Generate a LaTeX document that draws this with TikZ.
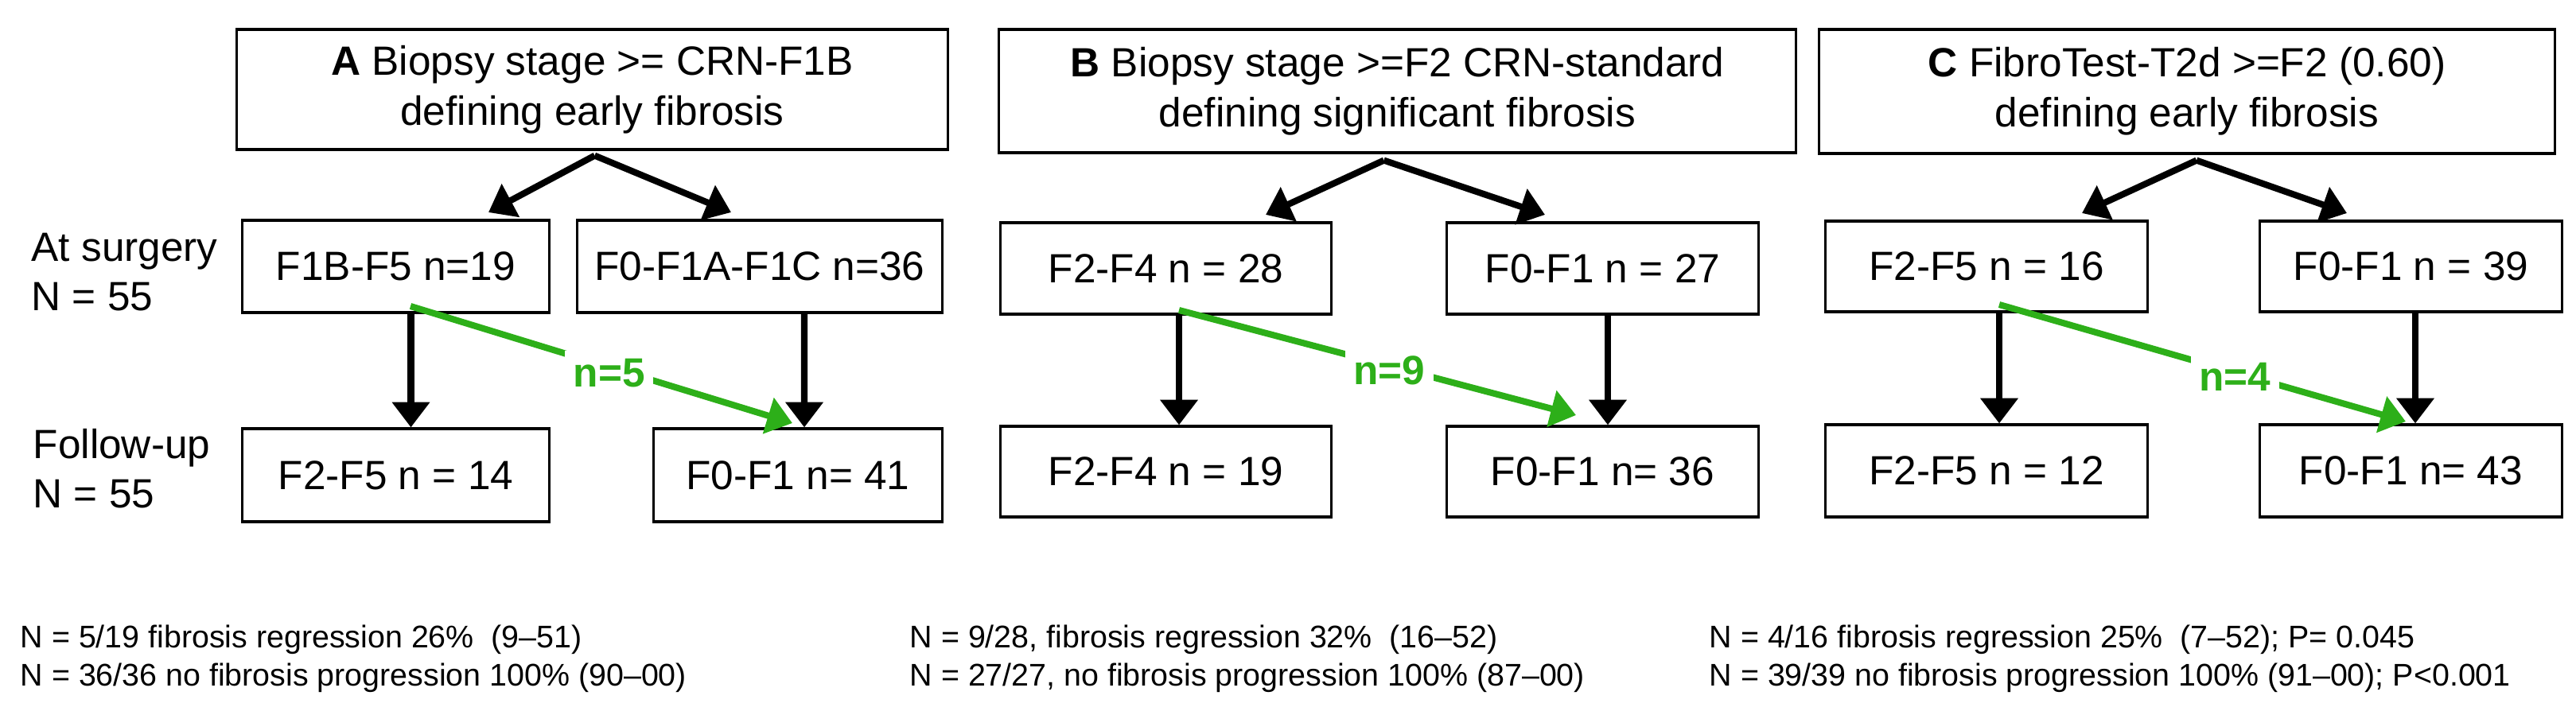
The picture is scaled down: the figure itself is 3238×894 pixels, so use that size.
\documentclass[tikz,border=0pt]{standalone}
\usepackage{fontspec}
\setmainfont{Liberation Sans}
\usetikzlibrary{arrows.meta}
\definecolor{grn}{RGB}{45,175,25}
\begin{document}
\begin{tikzpicture}[x=0.01cm,y=-0.01cm,
  box/.style={draw,line width=0.9pt,inner sep=0pt,font=\fontsize{14.6}{17.8}\selectfont,align=center},
  lbl/.style={anchor=west,align=left,inner sep=0pt,font=\fontsize{14.6}{17.6}\selectfont},
  foot/.style={anchor=west,align=left,inner sep=0pt,font=\fontsize{11.2}{13.7}\selectfont},
  arr/.style={line width=2.3pt,-{Triangle[length=9pt,width=13pt]}},
  garr/.style={arr,draw=grn},
  glab/.style={fill=white,text=grn,inner sep=3pt,font=\fontsize{14.6}{17}\selectfont\bfseries}]
\useasboundingbox (0,0) rectangle (3238,894);
% Panel A
\node[box,minimum width=8.93cm,minimum height=1.51cm] (tA) at (744.5,112.5) {\textbf{A} Biopsy stage >= CRN-F1B\\defining early fibrosis};
\node[box,minimum width=3.85cm,minimum height=1.16cm] (sA1) at (497.5,335) {F1B-F5 n=19};
\node[box,minimum width=4.58cm,minimum height=1.16cm] (sA2) at (955,335) {F0-F1A-F1C n=36};
\node[box,minimum width=3.85cm,minimum height=1.17cm] (fA1) at (497.5,597.5) {F2-F5 n = 14};
\node[box,minimum width=3.62cm,minimum height=1.17cm] (fA2) at (1003,597.5) {F0-F1 n= 41};
\coordinate (aL) at (614,267);
\coordinate (aR) at (919,267);
\draw[arr] ([xshift=0.03cm,yshift=-0.06cm]tA.south) -- (aL);
\draw[arr] ([xshift=0.03cm,yshift=-0.06cm]tA.south) -- (aR);
\draw[arr] ([xshift=0.19cm]sA1.south) -- ([xshift=0.19cm]fA1.north);
\draw[arr] ([xshift=0.56cm]sA2.south) -- ([xshift=0.08cm]fA2.north);
\coordinate (gA1) at (516,385);
\coordinate (gA2) at (996,532);
\draw[garr] (gA1) -- node[glab,pos=0.52,yshift=-0.08cm] {n=5} (gA2);
% Panel B
\node[box,minimum width=10.01cm,minimum height=1.55cm] (tB) at (1756.5,114.5) {\textbf{B} Biopsy stage >=F2 CRN-standard\\defining significant fibrosis};
\node[box,minimum width=4.15cm,minimum height=1.15cm] (sB1) at (1465.5,337.5) {F2-F4 n = 28};
\node[box,minimum width=3.91cm,minimum height=1.15cm] (sB2) at (2014.5,337.5) {F0-F1 n = 27};
\node[box,minimum width=4.15cm,minimum height=1.14cm] (fB1) at (1465.5,593) {F2-F4 n = 19};
\node[box,minimum width=3.91cm,minimum height=1.14cm] (fB2) at (2014.5,593) {F0-F1 n= 36};
\coordinate (bL) at (1591,270);
\coordinate (bR) at (1942,270);
\draw[arr] ([xshift=-0.17cm,yshift=-0.08cm]tB.south) -- (bL);
\draw[arr] ([xshift=-0.17cm,yshift=-0.08cm]tB.south) -- (bR);
\draw[arr] ([xshift=0.165cm]sB1.south) -- ([xshift=0.165cm]fB1.north);
\draw[arr] ([xshift=0.065cm]sB2.south) -- ([xshift=0.065cm]fB2.north);
\coordinate (gB1) at (1482,390);
\coordinate (gB2) at (1981,522);
\draw[garr] (gB1) -- node[glab,pos=0.53,yshift=-0.06cm] {n=9} (gB2);
% Panel C
\node[box,minimum width=9.24cm,minimum height=1.56cm] (tC) at (2749,115) {\textbf{C} FibroTest-T2d >=F2 (0.60)\\defining early fibrosis};
\node[box,minimum width=4.04cm,minimum height=1.14cm] (sC1) at (2497,335) {F2-F5 n = 16};
\node[box,minimum width=3.79cm,minimum height=1.14cm] (sC2) at (3030.5,335) {F0-F1 n = 39};
\node[box,minimum width=4.04cm,minimum height=1.16cm] (fC1) at (2497,592) {F2-F5 n = 12};
\node[box,minimum width=3.79cm,minimum height=1.16cm] (fC2) at (3030.5,592) {F0-F1 n= 43};
\coordinate (cL) at (2617,268);
\coordinate (cR) at (2950,268);
\draw[arr] ([xshift=0.12cm,yshift=-0.07cm]tC.south) -- (cL);
\draw[arr] ([xshift=0.12cm,yshift=-0.07cm]tC.south) -- (cR);
\draw[arr] ([xshift=0.16cm]sC1.south) -- ([xshift=0.16cm]fC1.north);
\draw[arr] ([xshift=0.055cm]sC2.south) -- ([xshift=0.055cm]fC2.north);
\coordinate (gC1) at (2513,383);
\coordinate (gC2) at (3024,530);
\draw[garr] (gC1) -- node[glab,pos=0.58,yshift=-0.06cm] {n=4} (gC2);
% side labels
\node[lbl] (ls) at (39,342) {At surgery\\N = 55};
\node[lbl] (lf) at (41,589) {Follow-up\\N = 55};
% footnotes
\node[foot] (nA) at (25,828) {N = 5/19 fibrosis regression 26\%\ \ (9–51)\\N = 36/36 no fibrosis progression 100\% (90–00)};
\node[foot] (nB) at (1143,828) {N = 9/28, fibrosis regression 32\%\ \ (16–52)\\N = 27/27, no fibrosis progression 100\% (87–00)};
\node[foot] (nC) at (2148,828) {N = 4/16 fibrosis regression 25\%\ \ (7–52); P= 0.045\\N = 39/39 no fibrosis progression 100\% (91–00); P<0.001};
\end{tikzpicture}
\end{document}
